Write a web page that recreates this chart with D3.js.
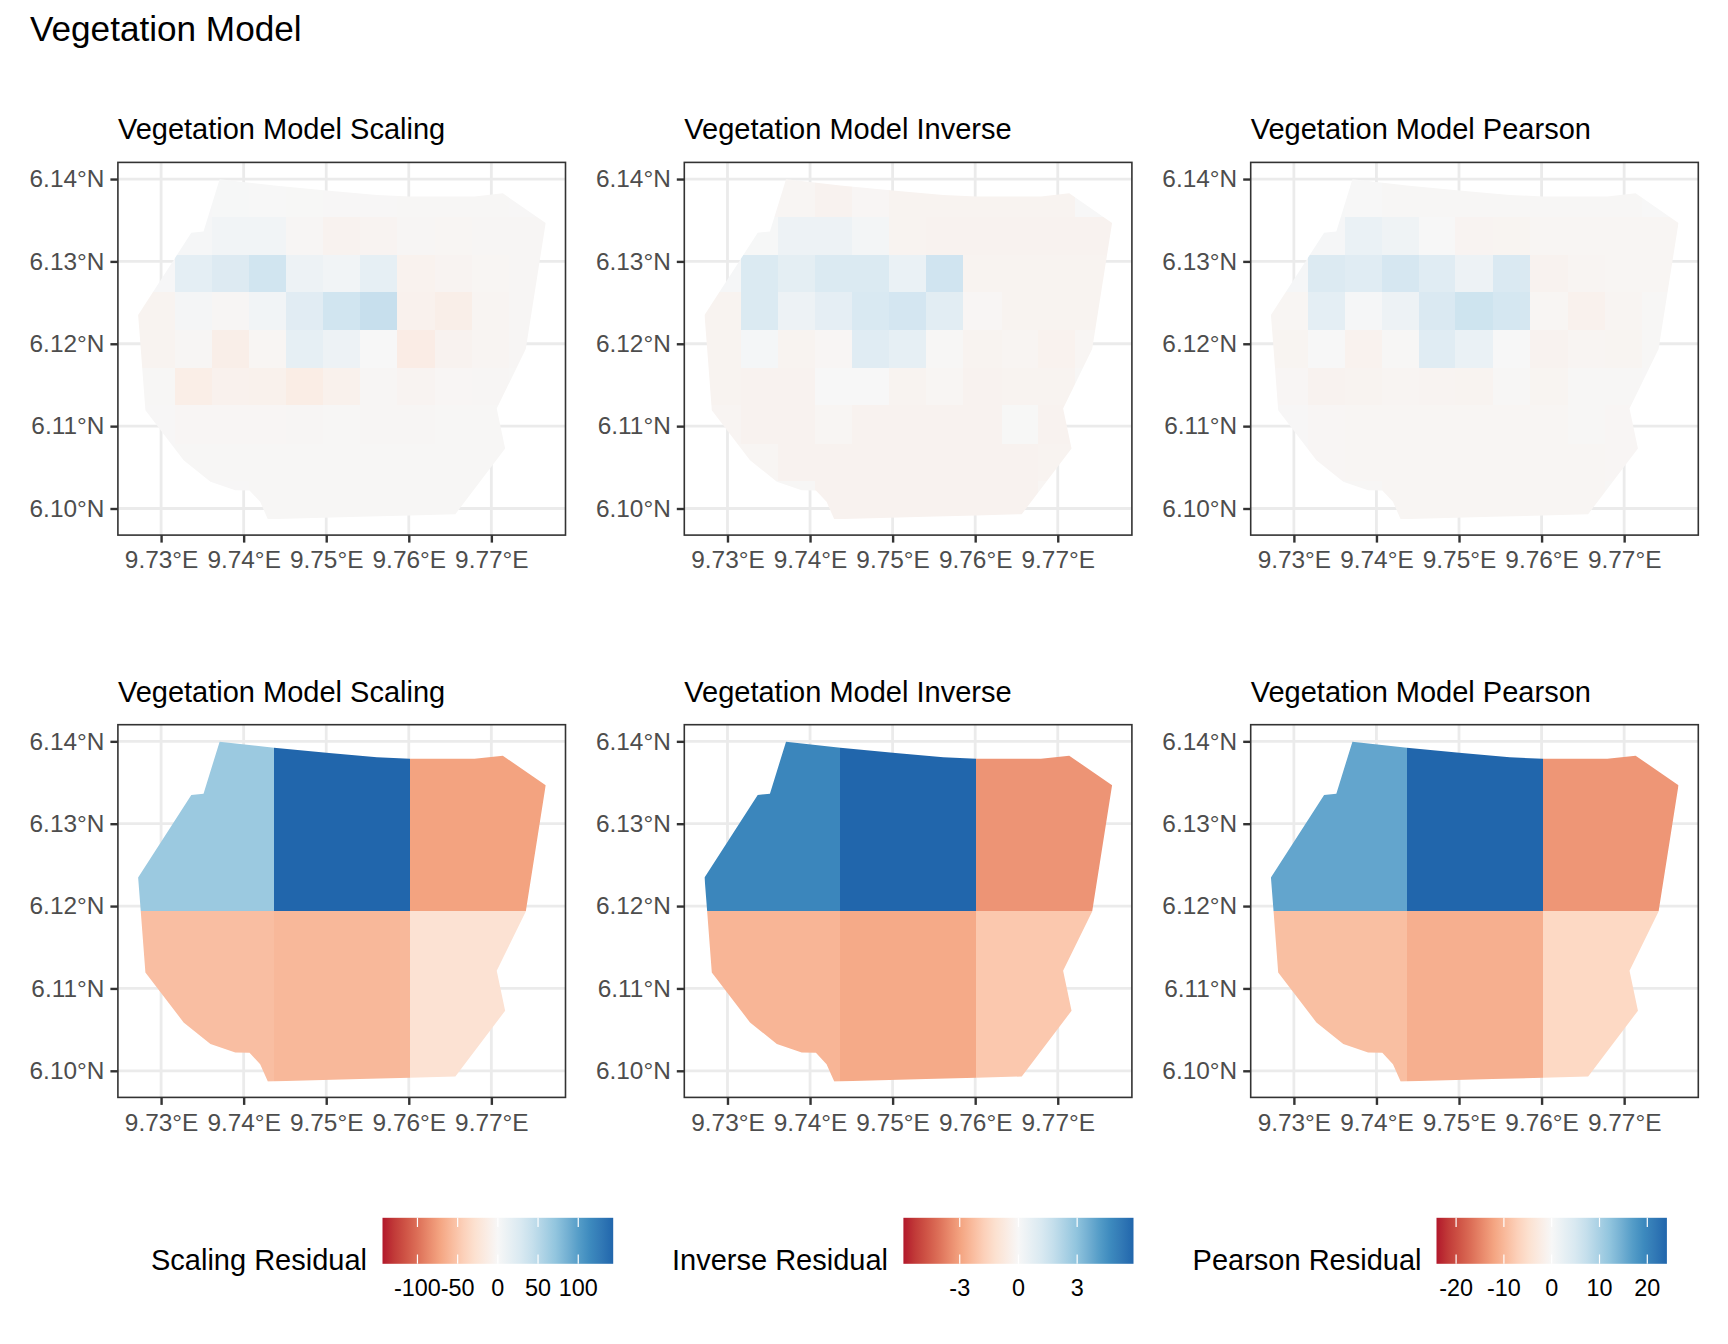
<!DOCTYPE html>
<html lang="en">

<head>
  <meta charset="UTF-8">
  <title>Vegetation Model</title>
  <style>
    body { margin: 0; background: white; }
    text { font-family: "Liberation Sans", Arial, sans-serif; }
  </style>
</head>

<body>

  <script src="https://d3js.org/d3.v7.min.js"></script>

  <script>
    // site boundary, lon / lat
    const outline = [
      [9.73709, 6.13996], [9.74367, 6.13923], [9.75035, 6.13858], [9.75614, 6.13806], [9.76013, 6.13789],
      [9.76796, 6.13789], [9.77139, 6.13826], [9.77658, 6.13466], [9.77417, 6.11935], [9.77065, 6.11215],
      [9.77167, 6.10729], [9.76564, 6.09931], [9.76013, 6.09915], [9.75406, 6.09899], [9.74293, 6.0987],
      [9.742, 6.10081], [9.74071, 6.10219], [9.73899, 6.10223], [9.73598, 6.10324], [9.73273, 6.10587],
      [9.7281, 6.11194], [9.72754, 6.11935], [9.72722, 6.12348], [9.73366, 6.13348], [9.73514, 6.13364]
    ];

    // fine grid, cell edges
    const fineLon = [9.72717, 9.73167, 9.73616, 9.74065, 9.74511, 9.74956, 9.75410, 9.75855, 9.76319, 9.76764, 9.77213, 9.77663];
    const fineLat = [6.14000, 6.13543, 6.13081, 6.12632, 6.12170, 6.11709, 6.11251, 6.10789, 6.10336, 6.09870];

    // coarse grid, cell edges
    const coarseLon = [9.72700, 9.74367, 9.76013, 9.77700];
    const coarseLat = [6.14100, 6.11935, 6.09800];

    const scalingFine = [
      [0, 1, 0.5, 0, -0.5, -1, -1, -1.5, -1.5, -1.5, -1],
      [0, 2, 6, 6, -2, -6, -4.5, -2, -3, -2, -2],
      [1, 18, 25, 36, 10, 6, 16, -7, -4.5, -3, -2],
      [-5, 3, -2, 6, 21, 36, 42, -7.5, -11, -4, -2],
      [-5, -2, -11, -3, 16, 10, 0, -13.5, -6, -4, -2],
      [-1.5, -12, -7.5, -8, -13, -8, -2, -4.5, -2.5, -2, -1.5],
      [-1, -2.5, -2.5, -2.5, -2, -1.5, -2, -2, -1.5, -1.5, -1],
      [-1, -1.5, -1.5, -1.5, -1.5, -1.5, -1.5, -1.5, -1.5, -1.5, -1],
      [0, -1, -1, -1.5, -1.5, -1.5, -1.5, -1.5, -1.5, -1.5, 0]
    ];

    const inverseFine = [
      [0, -0.1, -0.12, -0.25, -0.1, -0.2, -0.2, -0.22, -0.2, -0.2, 0],
      [0, 0.04, 0.4, 0.38, 0.15, -0.2, -0.25, -0.25, -0.25, -0.25, -0.25],
      [0.08, 1.1, 0.75, 1.1, 1.1, 0.5, 1.5, -0.22, -0.22, -0.22, -0.22],
      [-0.22, 1.1, 0.4, 0.7, 1.15, 1.35, 0.8, -0.1, -0.22, -0.22, -0.2],
      [-0.22, 0.1, -0.22, -0.1, 0.9, 0.65, -0.06, -0.22, -0.16, -0.28, -0.12],
      [-0.2, -0.25, -0.25, 0, 0, -0.22, -0.12, -0.25, -0.2, -0.2, -0.06],
      [-0.16, -0.25, -0.25, -0.12, -0.25, -0.25, -0.25, -0.25, -0.02, -0.25, -0.2],
      [-0.12, -0.12, -0.25, -0.25, -0.25, -0.25, -0.25, -0.25, -0.25, -0.2, -0.12],
      [0, 0, -0.06, -0.25, -0.25, -0.25, -0.25, -0.25, -0.25, -0.12, 0]
    ];

    const pearsonFine = [
      [0, 0.15, 0.08, -0.3, -0.3, -0.3, -0.3, -0.3, -0.3, -0.3, 0],
      [0, 0.4, 2, 1.35, 0, -0.8, -0.7, -0.45, -0.5, -0.5, -0.45],
      [0.4, 4.3, 3.7, 5.2, 3.7, 1.65, 4.6, -1.05, -0.6, -0.5, -0.5],
      [-0.5, 3, 0.3, 1.65, 4.6, 6.3, 5.4, -0.45, -1.2, -0.6, -0.3],
      [-0.7, 0.08, -1.1, -0.3, 3.7, 2, 0.08, -1.05, -0.6, -0.7, -0.3],
      [-0.4, -1, -0.9, -0.6, -0.8, -0.9, -0.3, -0.7, -0.3, -0.3, -0.15],
      [-0.15, -0.4, -0.45, -0.45, -0.45, -0.45, -0.45, -0.45, -0.3, -0.4, -0.2],
      [-0.15, -0.4, -0.45, -0.45, -0.45, -0.45, -0.45, -0.45, -0.45, -0.4, -0.15],
      [0, 0, -0.2, -0.45, -0.45, -0.45, -0.45, -0.45, -0.45, -0.2, 0]
    ];

    const scalingCoarse = [[67, 143.5, -73], [-55, -59, -27]];
    const inverseCoarse = [[4.83, 5.88, -3.3], [-2.5, -2.8, -2.0]];
    const pearsonCoarse = [[15.9, 24.1, -13.4], [-9.2, -10.9, -6.3]];

    const models = ['Scaling', 'Inverse', 'Pearson'];
    const limits = [143.5, 5.88, 24.1];
    const legendTicks = [[-100, -50, 0, 50, 100], [-3, 0, 3], [-20, -10, 0, 10, 20]];
    const fineValues = [scalingFine, inverseFine, pearsonFine];
    const coarseValues = [scalingCoarse, inverseCoarse, pearsonCoarse];

    const lonTicks = [9.73, 9.74, 9.75, 9.76, 9.77];
    const latTicks = [6.10, 6.11, 6.12, 6.13, 6.14];
    const rdBu = ['#b2182b', '#d6604d', '#f4a582', '#fddbc7', '#f7f7f7', '#d1e5f0', '#92c5de', '#4393c3', '#2166ac'];

    const width = 1728, height = 1344;
    const panelW = 447.6, panelH = 372.7;
    const panelLeft = [117.9, 684.3, 1250.7];
    const panelTop = [162.4, 724.7];

    const x = d3.scaleLinear().domain([9.72477, 9.77898]).range([0, panelW]);
    const y = d3.scaleLinear().domain([6.09677, 6.14202]).range([panelH, 0]);

    const colorFor = limit => d3.scaleLinear()
      .domain(d3.range(9).map(i => -limit + i * limit / 4))
      .range(rdBu)
      .interpolate(d3.interpolateLab)
      .clamp(true);

    const svg = d3.select('body')
      .append('svg')
      .attr('width', width)
      .attr('height', height);

    svg.append('text')
      .attr('x', 30)
      .attr('y', 41)
      .attr('font-size', 35.15)
      .attr('fill', 'black')
      .text('Vegetation Model');

    const defs = svg.append('defs');
    const outlinePath = d3.line().x(d => x(d[0])).y(d => y(d[1])).curve(d3.curveLinearClosed)(outline);
    defs.append('clipPath').attr('id', 'site').append('path').attr('d', outlinePath);

    function drawPanel(rowIndex, colIndex, values, lonEdges, latEdges) {
      const color = colorFor(limits[colIndex]);
      const g = svg.append('g')
        .attr('transform', `translate(${panelLeft[colIndex]},${panelTop[rowIndex]})`);

      g.append('text')
        .attr('x', 0)
        .attr('y', -23)
        .attr('font-size', 29)
        .attr('fill', 'black')
        .text(`Vegetation Model ${models[colIndex]}`);

      const grid = g.append('g').attr('stroke', '#ebebeb').attr('stroke-width', 2.8);
      grid.selectAll('.gx').data(lonTicks).enter().append('line')
        .attr('x1', d => x(d)).attr('x2', d => x(d)).attr('y1', 0).attr('y2', panelH);
      grid.selectAll('.gy').data(latTicks).enter().append('line')
        .attr('x1', 0).attr('x2', panelW).attr('y1', d => y(d)).attr('y2', d => y(d));

      const cells = values.flatMap((row, r) => row.map((v, c) => ({ r, c, v })));
      g.append('g')
        .attr('clip-path', 'url(#site)')
        .selectAll('rect')
        .data(cells)
        .enter()
        .append('rect')
        .attr('x', d => x(lonEdges[d.c]))
        .attr('y', d => y(latEdges[d.r]))
        .attr('width', d => x(lonEdges[d.c + 1]) - x(lonEdges[d.c]))
        .attr('height', d => y(latEdges[d.r + 1]) - y(latEdges[d.r]))
        .attr('shape-rendering', 'crispEdges')
        .attr('fill', d => color(d.v));

      const xAxis = g.append('g')
        .attr('transform', `translate(0,${panelH})`)
        .call(d3.axisBottom(x).tickValues(lonTicks).tickFormat(d => `${d.toFixed(2)}°E`).tickSize(7.5).tickPadding(8.5));
      const yAxis = g.append('g')
        .call(d3.axisLeft(y).tickValues(latTicks).tickFormat(d => `${d.toFixed(2)}°N`).tickSize(7.5).tickPadding(6));

      [xAxis, yAxis].forEach(a => {
        a.select('.domain').remove();
        a.selectAll('line').attr('stroke', '#333333').attr('stroke-width', 2.4);
        a.selectAll('text').attr('fill', '#4d4d4d').attr('font-size', 24.4).attr('font-family', '"Liberation Sans", Arial, sans-serif');
      });

      g.append('rect')
        .attr('width', panelW)
        .attr('height', panelH)
        .attr('fill', 'none')
        .attr('stroke', '#333333')
        .attr('stroke-width', 1.6);
    }

    models.forEach((m, i) => {
      drawPanel(0, i, fineValues[i], fineLon, fineLat);
      drawPanel(1, i, coarseValues[i], coarseLon, coarseLat);
    });

    // colour bars at the bottom
    const barLeft = [382.5, 903.4, 1436.5];
    const barWidth = [230.7, 230.1, 230.4];
    const titleRight = [367, 888, 1421.5];
    const barTop = 1217.8, barHeight = 46;

    models.forEach((m, i) => {
      const limit = limits[i];
      const color = colorFor(limit);
      const lx = d3.scaleLinear().domain([-limit, limit]).range([0, barWidth[i]]);

      const gradient = defs.append('linearGradient').attr('id', `grad${i}`);
      gradient.selectAll('stop')
        .data(d3.range(0, 1.0001, 0.05))
        .enter()
        .append('stop')
        .attr('offset', d => d)
        .attr('stop-color', d => color(-limit + 2 * limit * d));

      const g = svg.append('g').attr('transform', `translate(${barLeft[i]},${barTop})`);

      g.append('rect')
        .attr('width', barWidth[i])
        .attr('height', barHeight)
        .attr('fill', `url(#grad${i})`);

      g.selectAll('.tickTop')
        .data(legendTicks[i])
        .enter()
        .append('path')
        .attr('d', d => `M${lx(d)},0V${barHeight / 5}M${lx(d)},${barHeight * 4 / 5}V${barHeight}`)
        .attr('stroke', 'white')
        .attr('stroke-width', 1.2)
        .attr('fill', 'none');

      g.selectAll('.label')
        .data(legendTicks[i])
        .enter()
        .append('text')
        .attr('x', d => lx(d))
        .attr('y', 78.2)
        .attr('text-anchor', 'middle')
        .attr('font-size', 23.4)
        .attr('fill', 'black')
        .text(d => d);

      svg.append('text')
        .attr('x', titleRight[i])
        .attr('y', 1270)
        .attr('text-anchor', 'end')
        .attr('font-size', 29)
        .attr('fill', 'black')
        .text(`${m} Residual`);
    });
  </script>
</body>

</html>
